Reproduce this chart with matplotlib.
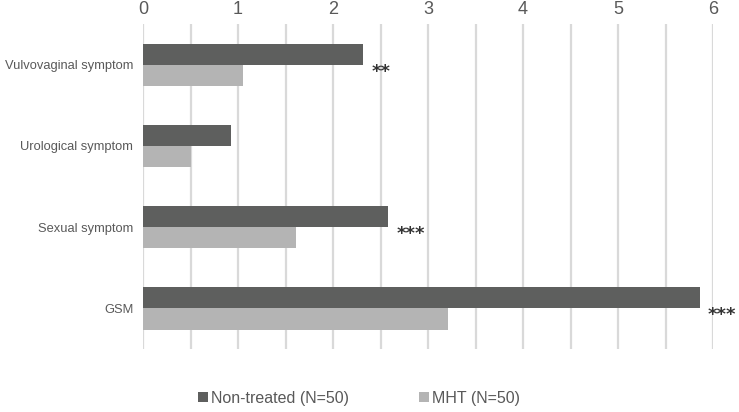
import matplotlib
matplotlib.use("Agg")
import matplotlib.pyplot as plt
import numpy as np
from matplotlib.patches import Patch

categories = ["Vulvovaginal symptom", "Urological symptom", "Sexual symptom", "GSM"]
non_treated = [2.32, 0.93, 2.58, 5.86]
mht = [1.05, 0.51, 1.61, 3.21]
significance = ["**", "", "***", "***"]
series_labels = ["Non-treated (N=50)", "MHT (N=50)"]
x_ticks = [0, 1, 2, 3, 4, 5, 6]

plt.rcParams['font.family'] = ['Liberation Sans', 'DejaVu Sans']

fig = plt.figure(figsize=(7.39, 4.12), dpi=100)
ax = fig.add_axes([143/739, 1 - 349/412, (713 - 143)/739, (349 - 24)/412])

dark = '#5e5f5e'
light = '#b4b4b4'
h = 0.26
y = np.arange(len(categories))
ax.barh(y - h/2, non_treated, height=h, color=dark, zorder=3)
ax.barh(y + h/2, mht, height=h, color=light, zorder=3)

for yi, v, s in zip(y, non_treated, significance):
    if s:
        ax.annotate(s, xy=(v, yi), xytext=(6, -5), textcoords='offset points',
                    ha='left', va='center', fontsize=13, fontweight='bold',
                    color='#333333', family='DejaVu Sans')

ax.set_xlim(0, 6)
ax.set_ylim(len(categories) - 0.5, -0.5)
ax.set_xticks(x_ticks)
ax.set_xticks(np.arange(0, 6.01, 0.5), minor=True)
ax.grid(axis='x', which='both', color='#d9d9d9', linewidth=1.6, zorder=0)
ax.set_axisbelow(True)
ax.xaxis.tick_top()
ax.tick_params(axis='x', which='both', length=0, pad=4, labelsize=13, labelcolor='#595959')
ax.set_yticks(y)
ax.set_yticklabels(categories)
ax.tick_params(axis='y', length=0, pad=7, labelsize=9.3, labelcolor='#595959')
for sp in ax.spines.values():
    sp.set_visible(False)

handles = [Patch(facecolor=dark), Patch(facecolor=light)]
fig.legend(handles, series_labels, loc='center', bbox_to_anchor=(359/739, 1 - 398/412),
           ncol=2, frameon=False, fontsize=11.5, handlelength=0.6, handleheight=0.6,
           handletextpad=0.2, columnspacing=4.4, labelcolor='#595959')

fig.savefig('out.png', dpi=100)
